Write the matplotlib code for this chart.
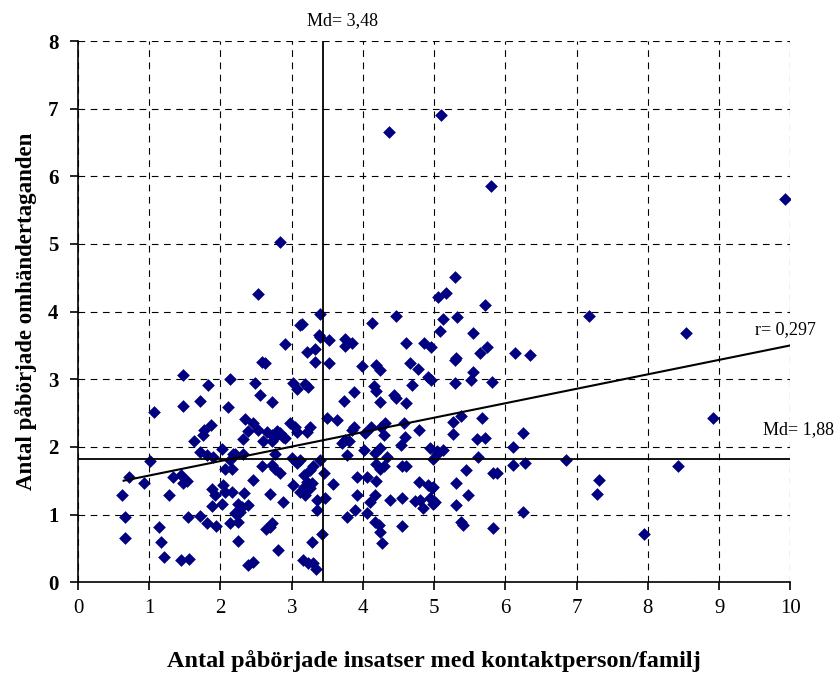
import matplotlib
matplotlib.use("Agg")
import matplotlib.pyplot as plt

# insatser med kontaktperson/familj (x) och omhändertaganden (y), per enhet
x_vals = [
    1.47, 2.13, 1.83, 1.07, 1.47, 1.71, 2.10, 1.87, 1.77, 1.75, 1.63, 2.02, 1.71, 1.81, 1.90, 2.20,
    1.01, 2.06, 2.16, 0.71, 0.93, 1.34, 1.45, 1.48, 1.53, 0.62, 1.28, 1.88, 1.92, 2.04, 2.06, 2.16,
    1.88, 2.02, 0.66, 1.54, 1.71, 1.81, 1.94, 2.13, 2.20, 1.13, 0.66, 1.17, 1.21, 1.44, 1.56, 2.25,
    2.58, 2.63, 3.33, 3.98, 4.19, 4.24, 2.49, 3.02, 3.07, 3.19, 3.23, 2.56, 2.72, 3.73, 3.88, 4.15,
    4.19, 4.43, 4.46, 4.24, 4.61, 2.34, 2.45, 2.39, 2.53, 2.65, 2.72, 2.79, 2.84, 2.88, 2.98, 3.05,
    3.07, 3.21, 3.26, 3.49, 3.63, 2.31, 2.60, 2.72, 2.77, 2.91, 3.70, 3.75, 3.80, 3.84, 3.87, 4.03,
    4.12, 4.26, 4.31, 4.29, 4.53, 4.59, 4.57, 2.18, 2.32, 2.76, 3.00, 3.12, 3.07, 3.40, 3.77, 4.01,
    4.17, 4.24, 4.34, 2.58, 2.72, 2.77, 2.84, 3.17, 3.26, 3.30, 3.21, 3.17, 3.23, 3.12, 3.19, 3.28,
    3.26, 3.45, 3.02, 3.58, 3.91, 4.05, 4.19, 4.19, 4.24, 4.29, 4.55, 4.61, 2.46, 2.33, 2.69, 2.88,
    3.35, 3.47, 3.35, 3.91, 4.10, 4.17, 4.38, 4.55, 2.25, 2.30, 2.39, 2.27, 2.25, 3.78, 3.89, 4.05,
    4.17, 4.22, 4.24, 4.27, 4.55, 2.64, 2.70, 2.73, 2.81, 3.29, 3.42, 2.39, 2.46, 3.16, 3.23, 3.30,
    3.34, 2.13, 4.66, 4.77, 5.29, 4.92, 4.95, 4.69, 5.29, 5.54, 5.52, 5.81, 4.79, 5.26, 5.38, 5.26,
    5.67, 5.60, 5.71, 4.94, 5.04, 5.12, 4.99, 5.04, 5.61, 6.10, 6.25, 6.11, 6.28, 6.85, 5.44, 5.82,
    5.88, 4.79, 4.92, 4.97, 4.99, 5.31, 4.73, 4.80, 4.85, 4.94, 4.99, 5.01, 5.31, 5.47, 6.24, 5.38,
    5.40, 5.83, 8.91, 8.42, 7.31, 7.28, 7.95, 2.84, 2.52, 3.40, 3.14, 3.12, 3.38, 3.40, 3.53, 3.75,
    3.84, 3.75, 2.91, 3.21, 3.33, 3.53, 4.13, 4.47, 4.61, 5.29, 5.06, 5.16, 5.71, 5.13, 5.32, 5.08,
    5.55, 4.86, 4.95, 5.74, 5.64, 5.31, 6.13, 6.35, 9.92, 7.17, 8.53, 4.36, 5.10, 5.80,
]
y_vals = [
    3.06, 3.01, 2.91, 2.51, 2.61, 2.68, 2.59, 2.33, 2.25, 2.17, 2.08, 1.97, 1.93, 1.88, 1.85, 1.90,
    1.79, 1.68, 1.68, 1.55, 1.47, 1.55, 1.58, 1.46, 1.50, 1.29, 1.29, 1.37, 1.29, 1.43, 1.34, 1.34,
    1.13, 1.15, 0.97, 0.97, 0.98, 0.88, 0.83, 0.88, 1.02, 0.81, 0.66, 0.60, 0.37, 0.33, 0.34, 0.61,
    3.26, 3.24, 3.26, 3.20, 3.21, 3.14, 2.94, 2.95, 2.85, 2.93, 2.89, 2.77, 2.66, 2.68, 2.81, 2.90,
    2.82, 2.77, 2.72, 2.67, 2.65, 2.41, 2.35, 2.24, 2.25, 2.22, 2.17, 2.24, 2.21, 2.15, 2.36, 2.30,
    2.22, 2.22, 2.30, 2.43, 2.40, 2.12, 2.08, 2.08, 2.14, 2.13, 2.05, 2.10, 2.08, 2.25, 2.30, 2.21,
    2.30, 2.30, 2.35, 2.17, 2.03, 2.15, 2.35, 1.90, 1.90, 1.90, 1.83, 1.80, 1.76, 1.80, 1.88, 1.95,
    1.91, 1.98, 1.85, 1.72, 1.73, 1.68, 1.61, 1.58, 1.66, 1.71, 1.48, 1.41, 1.41, 1.34, 1.29, 1.46,
    1.39, 1.61, 1.43, 1.45, 1.55, 1.55, 1.50, 1.75, 1.68, 1.72, 1.71, 1.71, 1.51, 1.32, 1.31, 1.19,
    1.21, 1.24, 1.07, 1.29, 1.19, 1.29, 1.21, 1.24, 1.16, 1.11, 1.14, 1.04, 0.89, 0.96, 1.07, 1.02,
    0.89, 0.84, 0.74, 0.58, 0.83, 0.79, 0.82, 0.87, 0.48, 0.60, 0.71, 0.25, 0.30, 0.33, 0.29, 0.28,
    0.19, 1.80, 3.24, 3.15, 3.28, 3.03, 2.99, 2.91, 2.94, 3.11, 2.99, 2.96, 2.25, 2.37, 2.45, 2.19,
    2.42, 2.11, 2.13, 1.99, 1.94, 1.96, 1.82, 1.89, 1.85, 2.00, 2.21, 1.73, 1.76, 1.81, 1.66, 1.61,
    1.61, 1.48, 1.43, 1.39, 1.41, 1.46, 1.20, 1.22, 1.09, 1.24, 1.16, 1.19, 1.14, 1.29, 1.03, 0.89,
    0.84, 0.80, 2.42, 1.71, 1.51, 1.31, 0.71, 5.03, 4.26, 3.96, 3.82, 3.80, 3.65, 3.63, 3.58, 3.59,
    3.53, 3.49, 3.52, 3.40, 3.44, 3.24, 3.83, 3.93, 3.53, 4.51, 4.22, 4.28, 4.10, 3.89, 3.92, 3.72,
    3.68, 3.53, 3.48, 3.48, 3.39, 3.32, 3.39, 3.36, 5.67, 3.93, 3.68, 6.66, 6.91, 5.86,
]

md_x = 3.44
md_y = 1.82
fit_start = 0.64
fit_intercept = 1.363
fit_slope = 0.2137

plt.rcParams['font.family'] = ['Liberation Serif', 'DejaVu Serif']

fig = plt.figure(figsize=(8.39, 6.73), dpi=100)
ax = fig.add_axes([0.093, 0.135, 0.849, 0.804])

ax.set_xlim(0, 10)
ax.set_ylim(0, 8)
ax.set_xticks(range(0, 11))
ax.set_yticks(range(0, 9))
ax.grid(True, color='black', linestyle=(0, (6, 5)), linewidth=0.8)
ax.set_axisbelow(True)
for side in ['top', 'right']:
    ax.spines[side].set_visible(False)
for side in ['left', 'bottom']:
    ax.spines[side].set_linewidth(1.2)

ax.scatter(x_vals, y_vals, marker='D', s=42, color='#000080', zorder=3, linewidths=0)

ax.plot([md_x, md_x], [0, 8], color='black', linewidth=1.3, zorder=4)
ax.plot([0, 10], [md_y, md_y], color='black', linewidth=1.3, zorder=4)
ax.plot([fit_start, 10],
        [fit_intercept + fit_slope * fit_start, fit_intercept + fit_slope * 10],
        color='black', linewidth=1.5, zorder=4)

ax.text(3.71, 8.3, 'Md= 3,48', ha='center', va='center', fontsize=13)
ax.text(9.5, 3.73, 'r= 0,297', ha='left', va='center', fontsize=13)
ax.text(9.62, 2.26, 'Md= 1,88', ha='left', va='center', fontsize=13)

ax.tick_params(axis='x', direction='out', length=6, width=1.2, labelsize=15, pad=6)
ax.tick_params(axis='y', direction='out', length=6, width=1.2, labelsize=15, pad=8)
for lbl in ax.get_yticklabels():
    lbl.set_fontweight('bold')

ax.set_xlabel('Antal påbörjade insatser med kontaktperson/familj',
              fontsize=17.5, fontweight='bold', labelpad=23)
ax.set_ylabel('Antal påbörjade omhändertaganden',
              fontsize=16.5, fontweight='bold', labelpad=8)

fig.savefig('out.png', dpi=100)
